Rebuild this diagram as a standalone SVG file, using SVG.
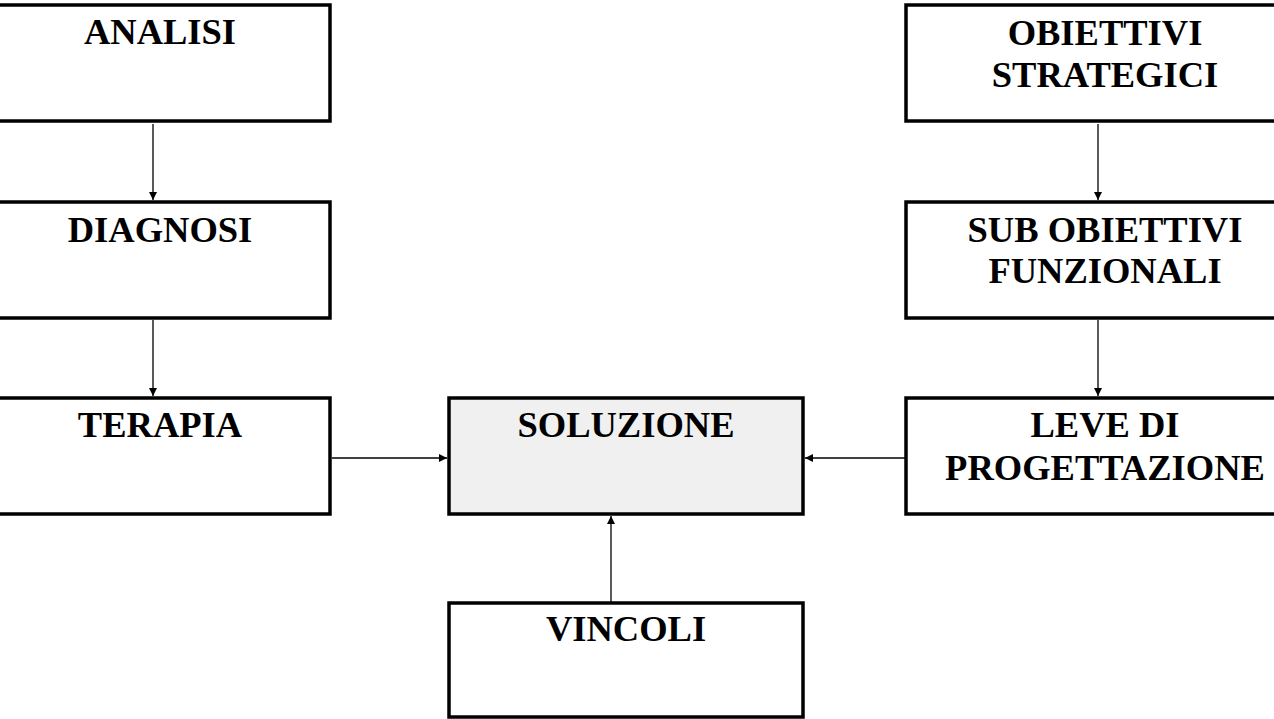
<svg xmlns="http://www.w3.org/2000/svg" width="1274" height="719" viewBox="0 0 1274 719">
  <style>
    .box { fill: #ffffff; stroke: #000000; stroke-width: 3.5; }
    .hub { fill: #f0f0f0; stroke: #000000; stroke-width: 3.5; }
    .lbl { font-family: "Liberation Serif", "Times New Roman", serif; font-weight: bold; font-size: 36.5px; fill: #000000; text-anchor: middle; }
    .link { stroke: #000000; stroke-width: 1.3; fill: none; marker-end: url(#head); }
  </style>
  <defs>
    <marker id="head" viewBox="0 0 10 10" refX="10" refY="5" markerWidth="8" markerHeight="8" markerUnits="userSpaceOnUse" orient="auto">
      <path d="M0,0 L10,5 L0,10 Z" fill="#000000"/>
    </marker>
  </defs>

  <rect width="1274" height="719" fill="#ffffff"/>

  <!-- left column -->
  <g id="analisi">
    <rect class="box" x="-30" y="5" width="360" height="116"/>
    <text class="lbl" x="160" y="44">ANALISI</text>
  </g>
  <g id="diagnosi">
    <rect class="box" x="-30" y="202" width="360" height="116"/>
    <text class="lbl" x="160" y="242">DIAGNOSI</text>
  </g>
  <g id="terapia">
    <rect class="box" x="-30" y="398" width="360" height="116"/>
    <text class="lbl" x="160" y="437">TERAPIA</text>
  </g>

  <!-- centre -->
  <g id="soluzione">
    <rect class="hub" x="449" y="398" width="354" height="116"/>
    <text class="lbl" x="626" y="437">SOLUZIONE</text>
  </g>
  <g id="vincoli">
    <rect class="box" x="449" y="603" width="354" height="114"/>
    <text class="lbl" x="626" y="641">VINCOLI</text>
  </g>

  <!-- right column -->
  <g id="obiettivi-strategici">
    <rect class="box" x="906" y="5" width="390" height="116"/>
    <text class="lbl" x="1105" y="45">OBIETTIVI</text>
    <text class="lbl" x="1105" y="87">STRATEGICI</text>
  </g>
  <g id="sub-obiettivi">
    <rect class="box" x="906" y="202" width="390" height="116"/>
    <text class="lbl" x="1105" y="242">SUB OBIETTIVI</text>
    <text class="lbl" x="1105" y="283">FUNZIONALI</text>
  </g>
  <g id="leve">
    <rect class="box" x="906" y="398" width="390" height="116"/>
    <text class="lbl" x="1105" y="437">LEVE DI</text>
    <text class="lbl" x="1105" y="480">PROGETTAZIONE</text>
  </g>

  <!-- connectors -->
  <g id="connectors">
    <line class="link" x1="153" y1="124" x2="153" y2="200"/>
    <line class="link" x1="153" y1="320" x2="153" y2="396"/>
    <line class="link" x1="1098" y1="124" x2="1098" y2="200"/>
    <line class="link" x1="1098" y1="320" x2="1098" y2="396"/>
    <line class="link" x1="332" y1="458" x2="447" y2="458"/>
    <line class="link" x1="905" y1="458" x2="805" y2="458"/>
    <line class="link" x1="611" y1="602" x2="611" y2="516"/>
  </g>
</svg>
